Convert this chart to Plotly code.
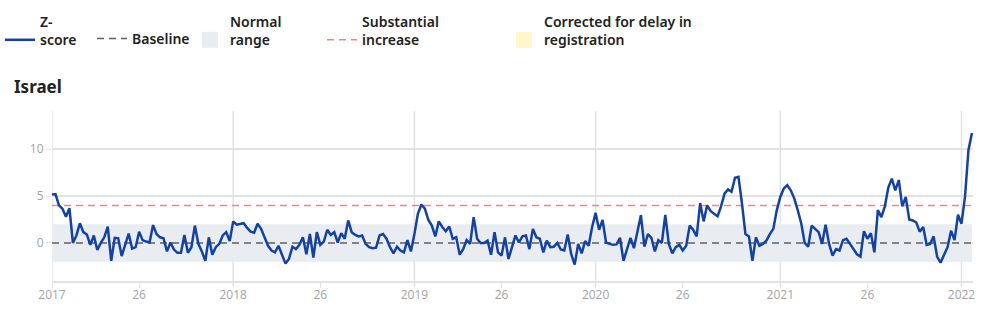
import plotly.graph_objects as go

# ---- data ----
years = [2017, 2018, 2019, 2020, 2021, 2022]
weeks_in_year = [52, 52, 52, 53, 52, 4]

z_score = [
    5.15, 5.2, 4.0, 3.65, 2.8, 3.7, 0.0, 0.8, 2.1, 1.15,
    0.9, -0.2, 0.8, -0.75, 0.0, 0.6, 1.75, -1.9, 0.55, 0.5,
    -1.4, -0.2, 1.0, -0.6, -0.45, 1.2, 0.3, 0.15, 0.05, 1.9,
    0.95, 0.6, 0.5, -0.9, 0.05, -0.7, -1.05, -1.05, 0.85, -1.05,
    -0.45, 1.85, -0.1, -0.9, -1.9, 0.6, -1.25, -0.45, -0.1, 0.8,
    1.15, 0.2, 2.3, 1.95, 2.05, 2.1, 1.6, 1.2, 1.1, 2.05,
    1.5, 0.55, -0.3, -0.8, -1.0, -0.3, -1.25, -2.2, -1.7, -0.4,
    -0.65, -0.2, 0.6, -1.2, 0.95, -1.55, 1.15, -0.2, 0.15, 1.4,
    0.85, 1.15, 0.05, 1.05, 0.45, 2.4, 1.15, 0.85, 0.7, 0.8,
    -0.1, -0.45, -0.55, -0.5, 0.8, 0.95, 0.45, -0.45, -1.1, -0.4,
    -0.8, -1.0, 0.3, -0.9, 0.95, 3.1, 4.1, 3.65, 2.45, 1.85,
    0.7, 2.3, 1.7, 1.25, 1.75, 0.45, 0.6, -1.25, -0.65, 0.3,
    -0.1, 2.75, 0.45, 0.0, 0.0, 0.25, -1.25, 1.15, -1.0, -1.35,
    0.6, -1.7, -0.45, 0.8, 0.05, 0.7, 0.8, -0.65, 1.5, 0.6,
    0.45, -1.0, 0.25, -0.45, -0.4, 0.0, -0.7, -0.8, 0.9, -1.2,
    -2.3, -0.1, -1.1, 0.2, -0.3, 1.7, 3.2, 1.4, 2.45, 0.05,
    -0.1, -0.2, -0.15, 0.55, -1.9, -0.75, 0.55, -0.55, 1.3, 2.95,
    -0.4, 0.95, 0.55, -0.9, 0.3, 0.0, 3.0, -0.1, -1.1, -0.45,
    -0.2, -0.8, -0.3, 1.85, 1.4, 0.7, 4.25, 2.3, 4.0, 3.4,
    3.1, 2.85, 3.9, 5.25, 5.7, 5.45, 6.95, 7.05, 4.2, 0.95,
    0.7, -1.9, 0.6, -0.3, -0.1, 0.25, 0.95, 1.5, 3.5, 4.9,
    5.8, 6.15, 5.6, 4.75, 3.5, 2.1, 0.0, -0.4, 1.85, 1.5,
    1.15, -0.1, 1.95, -0.1, -1.35, -0.65, -0.8, 0.3, 0.45, -0.1,
    -0.7, -1.2, -1.45, 1.25, 0.45, 1.05, -1.0, 3.5, 2.75, 3.9,
    5.9, 6.85, 5.6, 6.7, 3.9, 4.9, 2.5, 2.4, 2.2, 1.2,
    1.7, -0.2, -0.1, 0.7, -1.45, -2.1, -1.25, -0.45, 1.3, 0.3,
    3.0, 2.05, 4.9, 9.9, 11.7,
]

baseline_value = 0
normal_low = -2
normal_high = 2
substantial_value = 4
y_tick_values = [0, 5, 10]
mid_year_label = "26"

# ---- derived week index ----
week_idx = []
week_labels = []
tick_vals = []
tick_text = []
start = 0
for yr, n in zip(years, weeks_in_year):
    for w in range(1, n + 1):
        week_idx.append(start + w - 1)
        week_labels.append(f"{yr}-W{w:02d}")
    tick_vals.append(start)
    tick_text.append(str(yr))
    if n >= 26:
        tick_vals.append(start + 25)
        tick_text.append(mid_year_label)
    start += n

year_ticks = [v for v, t in zip(tick_vals, tick_text) if t != mid_year_label]
n = len(z_score)
x = week_idx[:n]
x_end = x[-1]

BLUE = "#1342a3"
BAND = "#e9edf1"
GRID = "#e2e2e2"
RED = "#ff7f7f"
GREY = "#5f5f5f"
YELLOW = "#fff6c9"
LEG_FONT = dict(family="Noto Sans", size=14, color="#222222", weight=600)

fig = go.Figure()

# normal range band
fig.add_trace(go.Scatter(
    x=x + x[::-1],
    y=[normal_high] * n + [normal_low] * n,
    fill="toself", fillcolor=BAND, line=dict(width=0),
    mode="lines", hoverinfo="skip", showlegend=False,
))
# baseline
fig.add_trace(go.Scatter(
    x=x, y=[baseline_value] * n, mode="lines",
    line=dict(color=GREY, width=1.5, dash="7px,5px"),
    name="Baseline", legend="legend2", hoverinfo="skip",
))
# substantial increase
fig.add_trace(go.Scatter(
    x=x, y=[substantial_value] * n, mode="lines",
    line=dict(color=RED, width=1.5, dash="7px,5px"),
    name="Substantial<br>increase", legend="legend4", hoverinfo="skip",
))
# z-score
fig.add_trace(go.Scatter(
    x=x, y=z_score, mode="lines",
    line=dict(color=BLUE, width=2.5),
    name="Z-<br>score", legend="legend", text=week_labels[:n],
))
# legend-only swatches
fig.add_trace(go.Scatter(
    x=[None], y=[None], mode="markers",
    marker=dict(symbol="square", size=17, color=BAND),
    name="Normal<br>range", legend="legend3",
))
fig.add_trace(go.Scatter(
    x=[None], y=[None], mode="markers",
    marker=dict(symbol="square", size=17, color=YELLOW),
    name="Corrected for delay in<br>registration", legend="legend5",
))

shapes = []
for v in year_ticks:
    shapes.append(dict(type="line", xref="x", yref="paper", x0=v, x1=v,
                       y0=-0.03, y1=1, line=dict(color=GRID, width=1.5),
                       layer="below"))

W, H = 1004, 326
plot_left, plot_w = 52, 921
plot_top, plot_h = 111, 170


def leg(px, py):
    return dict(x=px / W, y=1 - py / H, xref="container", yref="container",
                xanchor="left", yanchor="top",
                orientation="h", bgcolor="rgba(0,0,0,0)", font=LEG_FONT,
                valign="bottom", borderwidth=0)


fig.update_layout(
    width=W, height=H,
    margin=dict(l=plot_left, r=W - plot_left - plot_w, t=plot_top,
                b=H - plot_top - plot_h, autoexpand=False),
    paper_bgcolor="white", plot_bgcolor="white",
    title=dict(text="<b>Israel</b>", x=14 / W, xref="container", xanchor="left",
               y=1 - 87 / H, yref="container", yanchor="middle",
               font=dict(family="Noto Sans", size=17, color="#222222")),
    legend=leg(-6, 6),
    legend2=leg(92, 23),
    legend3=leg(190, 6),
    legend4=leg(322, 6),
    legend5=leg(504, 6),
    shapes=shapes,
    xaxis=dict(range=[0, x_end + 0.3], tickvals=tick_vals, ticktext=tick_text,
               showgrid=False, zeroline=False, showline=True, linecolor=GRID,
               linewidth=2, ticks="outside", ticklen=5, tickcolor=GRID,
               ticklabelstandoff=-3,
               tickfont=dict(family="Open Sans", size=12, color="#a3a3a3")),
    yaxis=dict(range=[-4.05, 14.05], tickvals=y_tick_values, showgrid=True,
               gridcolor=GRID, gridwidth=1.5, zeroline=False, showline=False,
               ticks="outside", ticklen=5, tickcolor=GRID,
               tickfont=dict(family="Open Sans", size=12, color="#a3a3a3")),
    showlegend=True,
)

fig.write_html("out.html")
